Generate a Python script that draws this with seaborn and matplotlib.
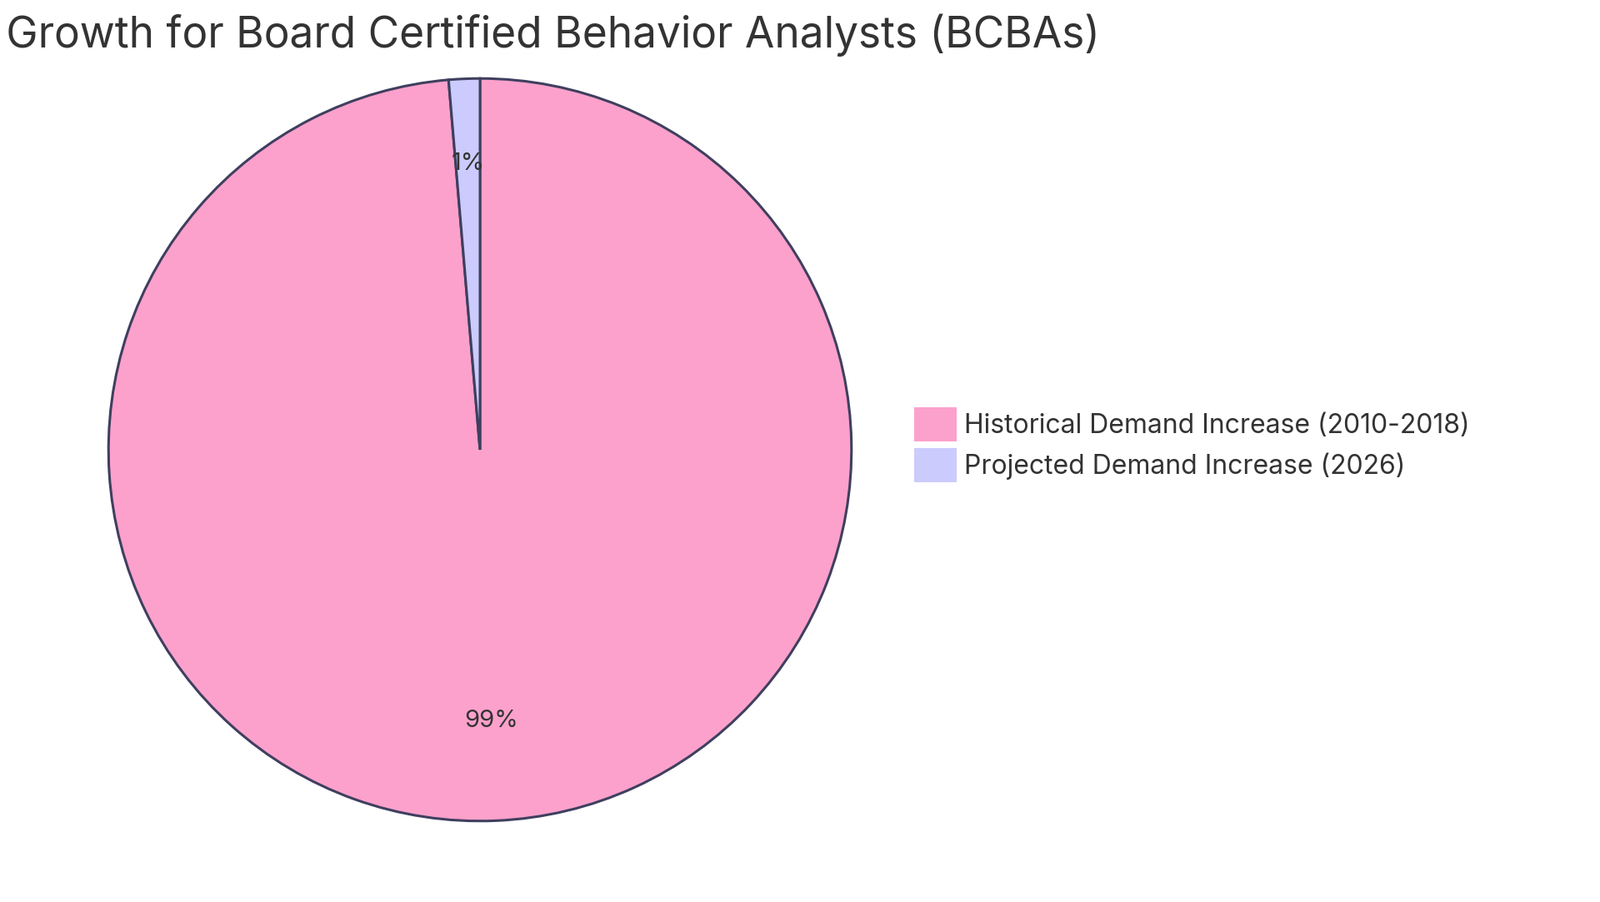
import matplotlib
matplotlib.use("Agg")
import matplotlib.pyplot as plt
import seaborn as sns

# data
labels = ["Historical Demand Increase (2010-2018)", "Projected Demand Increase (2026)"]
values = [5852, 80]
title = "Demand Growth for Board Certified Behavior Analysts (BCBAs)"

sns.set_theme(style="white", font="Inter")
colors = sns.color_palette(["#FCA1CC", "#CBCBFD"])
edge = "#3F3F5F"
text_col = "#333333"

W, H = 1920, 1083
fig = plt.figure(figsize=(W / 100, H / 100), dpi=100)

cx, cy, r = 576, 540, 448
ax = fig.add_axes([(cx - r) / W, (H - cy - r) / H, 2 * r / W, 2 * r / H])
wedges, _, autotexts = ax.pie(
    values, colors=colors, startangle=90, counterclock=False,
    autopct="%1.0f%%", pctdistance=0.73,
    wedgeprops=dict(edgecolor=edge, linewidth=2.2),
    textprops=dict(fontsize=21, color=text_col),
)
autotexts[1].set_position((autotexts[1].get_position()[0], 0.77))
ax.set_aspect("equal")
ax.set_xlim(-1.005, 1.005)
ax.set_ylim(-1.005, 1.005)

fig.text(cx / W - 0.011, 1 - 42 / H, title, ha="center", va="center", fontsize=37, color=text_col)

leg = fig.legend(wedges, labels, loc="upper left", bbox_to_anchor=(1068 / W, 1 - 460 / H),
                 frameon=False, fontsize=23, handlelength=1.6, handleheight=1.6,
                 handletextpad=0.3, labelspacing=0.25)
for t in leg.get_texts():
    t.set_color(text_col)
for h in leg.legend_handles:
    h.set_edgecolor("none")

fig.savefig("out.png", dpi=100)
